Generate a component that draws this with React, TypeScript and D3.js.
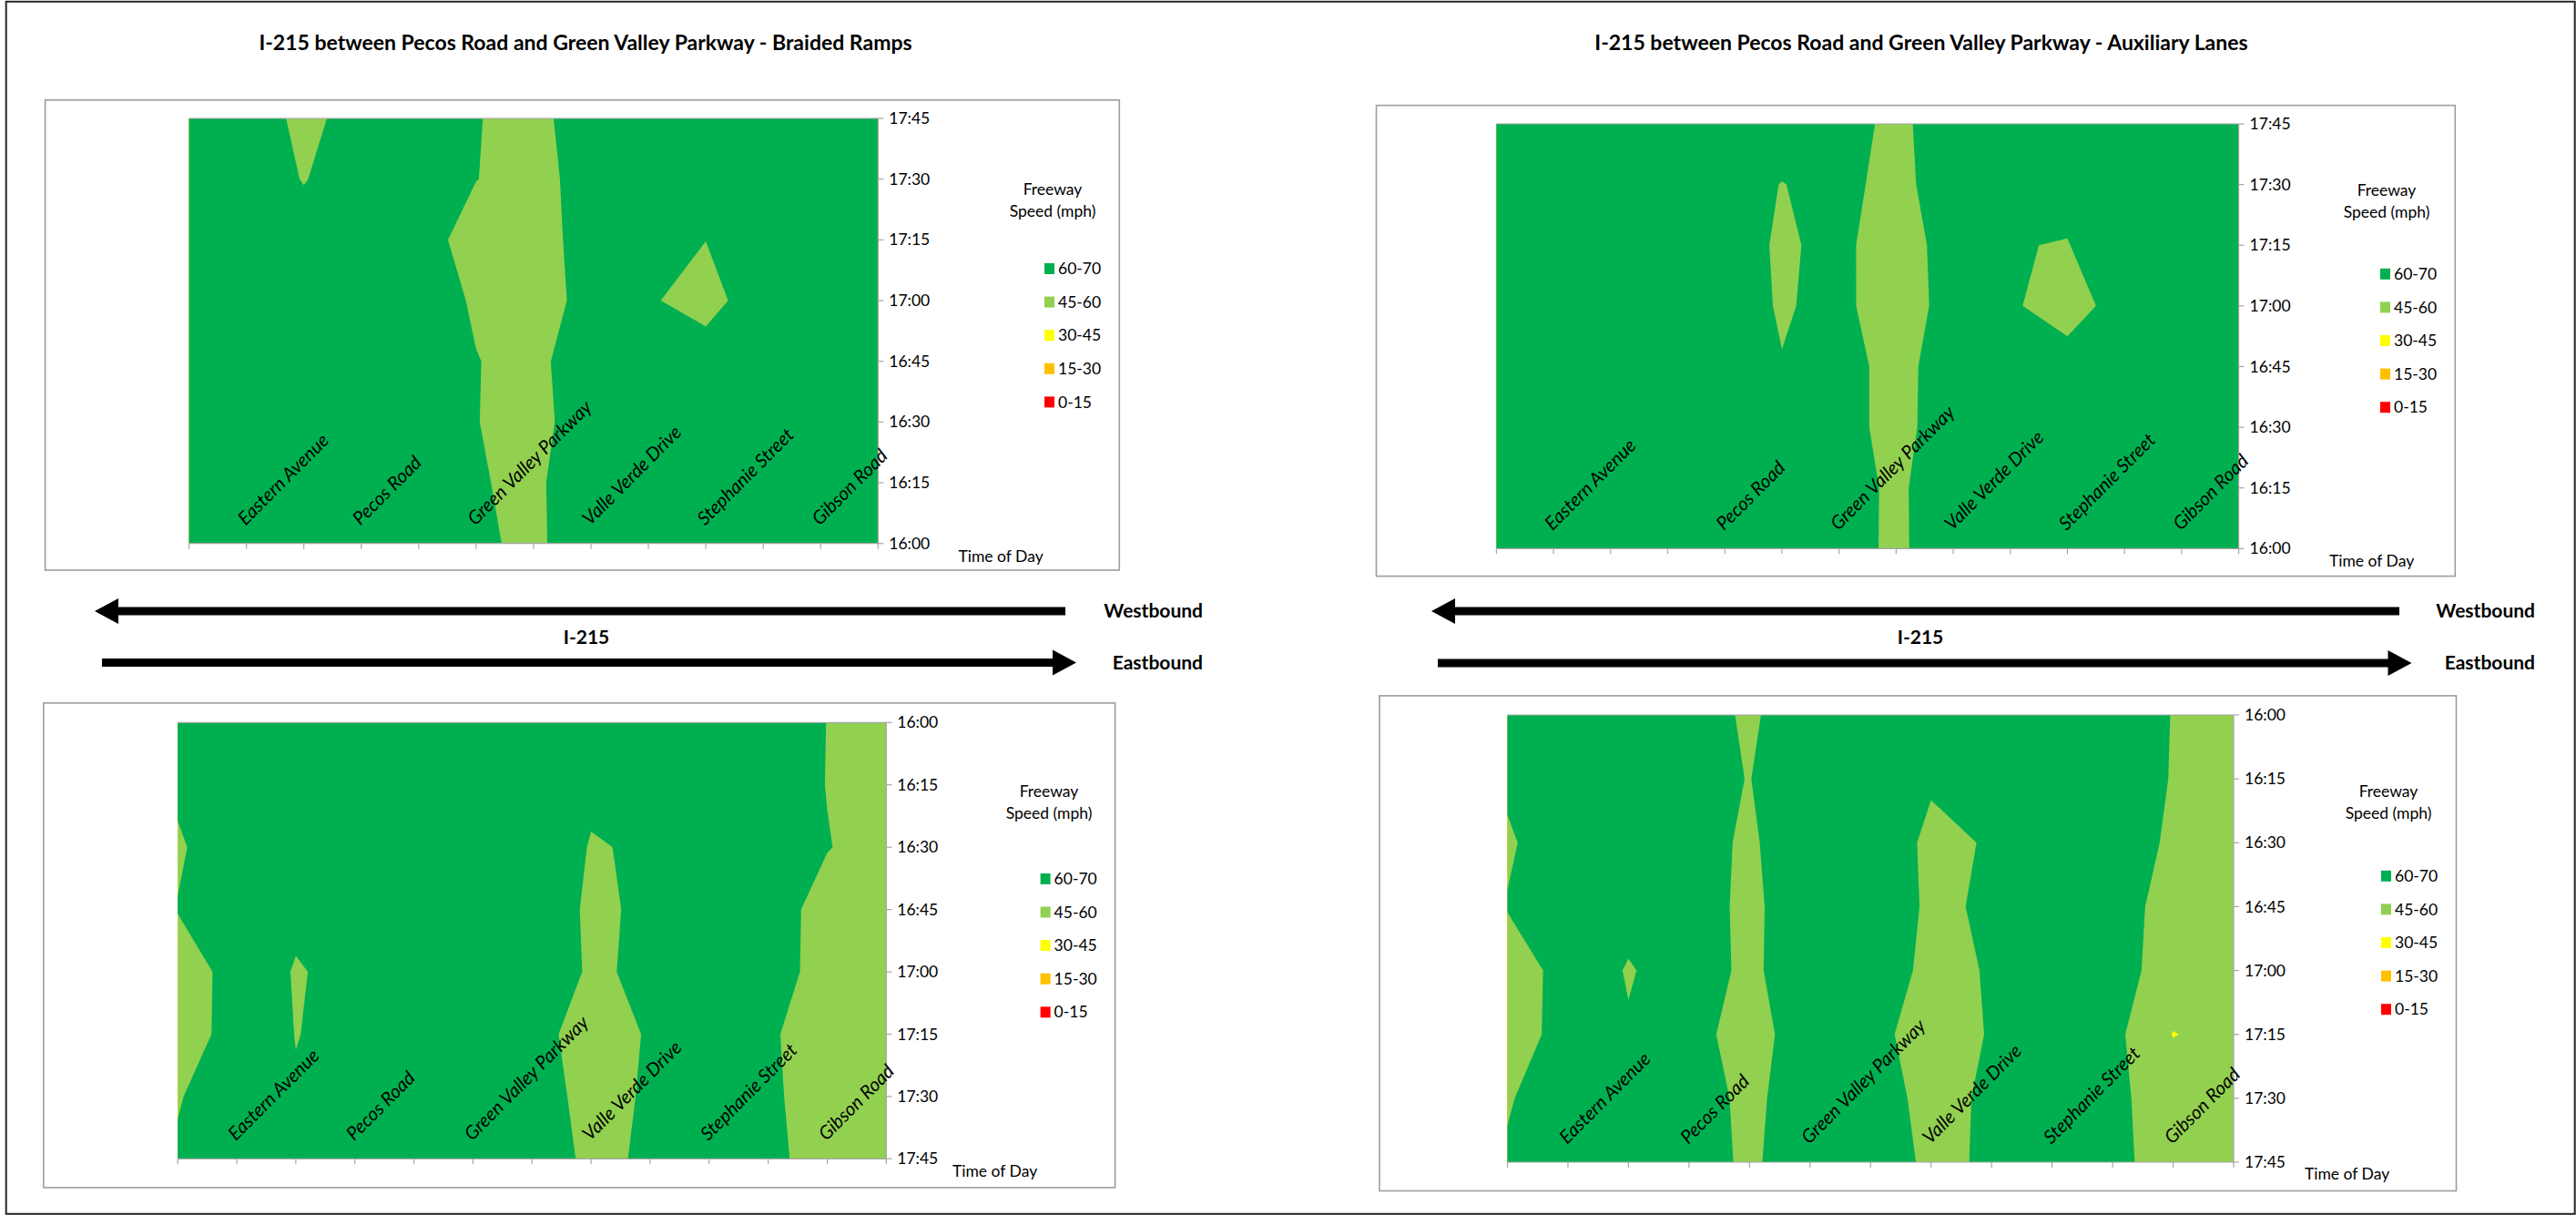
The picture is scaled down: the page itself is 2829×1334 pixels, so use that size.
import React from 'react';
import * as d3 from 'd3';

// rows of every grid: time of day, 15 minute steps
const timeLabels = ['16:00', '16:15', '16:30', '16:45', '17:00', '17:15', '17:30', '17:45'];

// count stations along I-215 (only every other one is named on the axis)
const braidedStations = ['', 'Eastern Avenue', '', 'Pecos Road', '', 'Green Valley Parkway', '', 'Valle Verde Drive', '', 'Stephanie Street', '', 'Gibson Road', ''];
const auxiliaryStations = ['', 'Eastern Avenue', '', '', 'Pecos Road', '', 'Green Valley Parkway', '', 'Valle Verde Drive', '', 'Stephanie Street', '', 'Gibson Road', ''];

// speed bands (mph), lowest first
const bandLabels = ['0-15', '15-30', '30-45', '45-60', '60-70'];
const bandFloors = [0, 15, 30, 45, 60];
const bandColors = ['#FF0000', '#FFC000', '#FFFF00', '#92D050', '#00B050'];

// freeway speeds, one row per time (16:00 first), one value per station
const braidedWestbound = [
  [65, 65, 65, 65, 65, 61.6, 58, 66.3, 65, 65, 65, 65, 65],
  [65, 65, 65, 65, 65, 60.7, 58, 67.1, 65, 65, 65, 65, 65],
  [65, 65, 65, 65, 65, 60.2, 57, 65.1, 65, 65, 65, 65, 65],
  [65, 65, 65, 65, 65, 60.3, 57, 67, 65, 65.4, 65, 65, 65],
  [65, 65, 65, 65, 65.5, 58.8, 56, 62.9, 61.1, 56, 66.3, 65, 65],
  [65, 65, 63.6, 65, 65.2, 55, 56, 63.8, 65, 60.1, 65, 65, 65],
  [65, 65, 59.6, 65, 65, 60.2, 56, 64.7, 65, 65, 65, 65, 65],
  [65, 66.7, 57, 64.5, 65, 60.4, 57, 65.6, 65, 65, 65, 65, 65],
];

const auxiliaryWestbound = [
  [65, 65, 65, 65, 65, 65, 64.5, 58, 66.7, 65, 65, 65, 65, 65],
  [65, 65, 65, 65, 65, 65, 64.7, 58, 67.1, 65, 65, 65, 65, 65],
  [65, 65, 65, 65, 65, 65, 64.5, 56, 66.8, 65, 65, 65, 65, 65],
  [65, 65, 65, 65, 65, 60.4, 64.5, 56, 66.3, 65, 64, 65, 65, 65],
  [65, 65, 65, 65, 65.3, 59, 63, 53, 65.1, 61.1, 56, 64, 65, 65],
  [65, 65, 65, 65, 65.3, 58.5, 62.9, 53.2, 65.8, 60.3, 59.7, 65.7, 65, 65],
  [65, 65, 65, 65, 65, 59.7, 63.5, 56, 67.4, 65, 62.4, 65, 65, 65],
  [65, 65, 65, 65, 65, 65.2, 65.1, 57, 67.3, 65, 65, 65, 65, 65],
];

const braidedEastbound = [
  [65, 65, 65, 65, 65, 65, 65, 65, 65, 65, 65, 59.9, 55],
  [61.45, 65, 65, 65, 65, 65, 65, 61.2, 65, 65, 65, 59.8, 55],
  [58.95, 65.5, 65, 65, 65, 65, 65.3, 59.6, 60.7, 65, 65, 60.3, 57],
  [60.3, 65, 60.8, 65, 65, 65, 65.1, 58.8, 61.15, 65, 63.8, 57, 55],
  [56, 62.8, 59.72, 61.1, 65, 65, 65.7, 59, 61.3, 65, 63.5, 57, 55],
  [56, 63, 59.91, 61, 65, 65, 64.1, 55, 60.9, 65, 61.3, 55, 55],
  [59.4, 65.4, 60.26, 65, 65, 65, 65.95, 56, 61.3, 65, 61.85, 55, 55],
  [61.07, 65, 65, 65, 65, 65, 67.1, 57.5, 61.5, 65, 62.3, 56, 55],
];

const auxiliaryEastbound = [
  [65, 65, 65, 63.2, 59, 64.3, 65, 65, 65, 65, 62, 59.9, 56],
  [61.07, 65, 65, 61.7, 59.85, 64.85, 65, 60.75, 65, 65, 62.3, 59.8, 56],
  [59.19, 63.95, 65, 63.1, 58.8, 65.9, 65, 58.5, 60.5, 65, 63.5, 59, 55],
  [60.3, 65, 61, 64.1, 58, 66, 65.1, 58.8, 60.9, 65, 63.5, 57, 55],
  [57, 62.1, 59.77, 61.5, 59.36, 62.1, 64.7, 58, 60.5, 65, 65.5, 54, 55],
  [57, 62.3, 60.27, 64.1, 55, 66.9, 63.3, 55, 60.7, 65, 64.1, 44.5, 50],
  [59.4, 64.4, 65, 65.1, 57.5, 66.1, 64.7, 57, 61.5, 65, 62.7, 54, 55],
  [60.83, 65, 65, 64.1, 58.5, 65.6, 65.4, 58.2, 61.06, 65, 62.3, 56, 55],
];

const FONT = "Lato, 'Open Sans', sans-serif";
const AXIS_GRAY = '#a6a6a6';

function ContourPanel({ id, values, stations, flip, box, plot, legend, timeOfDay }) {
  const nRows = values.length;
  const nCols = values[0].length;
  const [px0, py0, px1, py1] = plot;

  const x = d3.scaleLinear().domain([0, nCols - 1]).range([px0, px1]);
  const timeScale = d3.scalePoint().domain(timeLabels).range(flip ? [py1, py0] : [py0, py1]);
  const y = d3.scaleLinear().domain([0, nRows - 1]).range(timeScale.range());

  const bands = d3.contours().size([nCols, nRows]).thresholds(bandFloors)(values.flat());
  // contour grid puts value (i, j) at (i + .5, j + .5)
  const path = d3.geoPath(
    d3.geoTransform({
      point(gx, gy) {
        this.stream.point(x(gx - 0.5), y(gy - 0.5));
      },
    })
  );

  return (
    <g>
      <rect x={box[0]} y={box[1]} width={box[2] - box[0]} height={box[3] - box[1]} fill="#fff" stroke="#9d9d9d" strokeWidth={1.6} />
      <clipPath id={id}>
        <rect x={px0} y={py0} width={px1 - px0} height={py1 - py0} />
      </clipPath>
      <g clipPath={`url(#${id})`}>
        {bands.map((b, k) => (
          <path key={k} d={path(b)} fill={bandColors[k]} />
        ))}
      </g>

      {/* plot frame + axes */}
      <line x1={px0} x2={px1} y1={py0} y2={py0} stroke={AXIS_GRAY} strokeWidth={1.2} />
      <line x1={px1} x2={px1} y1={py0} y2={py1} stroke={AXIS_GRAY} strokeWidth={1.2} />
      <line x1={px0} x2={px1} y1={py1} y2={py1} stroke={AXIS_GRAY} strokeWidth={1.2} />
      {stations.map((s, i) => (
        <line key={'xt' + i} x1={x(i)} x2={x(i)} y1={py1} y2={py1 + 6} stroke={AXIS_GRAY} strokeWidth={1.2} />
      ))}
      {timeLabels.map((t) => (
        <g key={t}>
          <line x1={px1} x2={px1 + 6} y1={timeScale(t)} y2={timeScale(t)} stroke={AXIS_GRAY} strokeWidth={1.2} />
          <text x={px1 + 12} y={timeScale(t)} dy="0.35em" fontSize={17.5} fill="#000">
            {t}
          </text>
        </g>
      ))}

      {/* station names, written inside the plot */}
      {stations.map((s, i) =>
        s ? (
          <text key={'st' + i} transform={`translate(${x(i) - 1},${py1 - 19}) rotate(-45)`} fontSize={20.5} fontStyle="italic" fill="#000">
            {s}
          </text>
        ) : null
      )}

      <text x={timeOfDay[0]} y={timeOfDay[1]} dy="0.35em" fontSize={17.5} fill="#000">
        Time of Day
      </text>

      {/* legend */}
      <text x={legend.cx} y={legend.y0} dy="0.35em" textAnchor="middle" fontSize={17.5} fill="#000">
        Freeway
      </text>
      <text x={legend.cx} y={legend.y0 + 24} dy="0.35em" textAnchor="middle" fontSize={17.5} fill="#000">
        Speed (mph)
      </text>
      {bandLabels
        .map((lab, k) => ({ lab, k }))
        .reverse()
        .map(({ lab, k }, row) => {
          const cy = legend.items + row * 36.6;
          return (
            <g key={lab}>
              <rect x={legend.x} y={cy - 6} width={11} height={12} fill={bandColors[k]} />
              <text x={legend.x + 15} y={cy} dy="0.35em" fontSize={17.5} fill="#000">
                {lab}
              </text>
            </g>
          );
        })}
    </g>
  );
}

function DirectionArrows({ west, east, center, textEnd }) {
  const head = 26;
  const half = 14;
  return (
    <g>
      <line x1={west[0] + head - 1} x2={west[1]} y1={west[2]} y2={west[2]} stroke="#000" strokeWidth={9} />
      <polygon points={`${west[0]},${west[2]} ${west[0] + head},${west[2] - half} ${west[0] + head},${west[2] + half}`} fill="#000" />
      <line x1={east[0]} x2={east[1] - head + 1} y1={east[2]} y2={east[2]} stroke="#000" strokeWidth={9} />
      <polygon points={`${east[1]},${east[2]} ${east[1] - head},${east[2] - half} ${east[1] - head},${east[2] + half}`} fill="#000" />
      <text x={textEnd} y={west[2]} dy="0.35em" textAnchor="end" fontSize={21} fontWeight="bold" fill="#000">
        Westbound
      </text>
      <text x={textEnd} y={east[2]} dy="0.35em" textAnchor="end" fontSize={21} fontWeight="bold" fill="#000">
        Eastbound
      </text>
      <text x={center} y={700} dy="0.35em" textAnchor="middle" fontSize={21} fontWeight="bold" fill="#000">
        I-215
      </text>
    </g>
  );
}

export default function App() {
  return (
    <div style={{ position: 'fixed', left: 0, top: 0 }}>
      <svg width={2829} height={1334} style={{ display: 'block', background: '#fff', fontFamily: FONT }}>
        <rect x={6.7} y={1.8} width={2821} height={1331} fill="#fff" stroke="#262626" strokeWidth={2} />

        <text x={643} y={54.5} textAnchor="middle" fontSize={23} fontWeight="bold" fill="#000">
          I-215 between Pecos Road and Green Valley Parkway - Braided Ramps
        </text>
        <text x={2110} y={54.5} textAnchor="middle" fontSize={23} fontWeight="bold" fill="#000">
          I-215 between Pecos Road and Green Valley Parkway - Auxiliary Lanes
        </text>

        <ContourPanel
          id="clip-bwb"
          values={braidedWestbound}
          stations={braidedStations}
          flip
          box={[49.6, 109.8, 1229.3, 626]}
          plot={[207.6, 130, 964.3, 596.7]}
          legend={{ cx: 1156, x: 1147, y0: 208, items: 295 }}
          timeOfDay={[1052.5, 610.5]}
        />
        <ContourPanel
          id="clip-awb"
          values={auxiliaryWestbound}
          stations={auxiliaryStations}
          flip
          box={[1511.5, 115.7, 2696.3, 632.6]}
          plot={[1643.4, 136, 2458.6, 602.3]}
          legend={{ cx: 2621, x: 2614, y0: 209, items: 300.8 }}
          timeOfDay={[2558, 616]}
        />
        <ContourPanel
          id="clip-beb"
          values={braidedEastbound}
          stations={braidedStations}
          flip={false}
          box={[47.8, 771.9, 1224.6, 1303.9]}
          plot={[195.2, 793.3, 973.3, 1272.3]}
          legend={{ cx: 1152, x: 1142.6, y0: 869, items: 964.9 }}
          timeOfDay={[1046, 1286]}
        />
        <ContourPanel
          id="clip-aeb"
          values={auxiliaryEastbound}
          stations={braidedStations}
          flip={false}
          box={[1515, 763.9, 2697.5, 1307.5]}
          plot={[1655.5, 785, 2453, 1276]}
          legend={{ cx: 2623, x: 2615, y0: 869, items: 961.8 }}
          timeOfDay={[2531, 1289]}
        />

        <DirectionArrows west={[104, 1170, 671]} east={[112, 1182, 727.5]} center={644} textEnd={1321} />
        <DirectionArrows west={[1572, 2635, 671]} east={[1579, 2648.5, 728]} center={2109} textEnd={2784} />
      </svg>
    </div>
  );
}
